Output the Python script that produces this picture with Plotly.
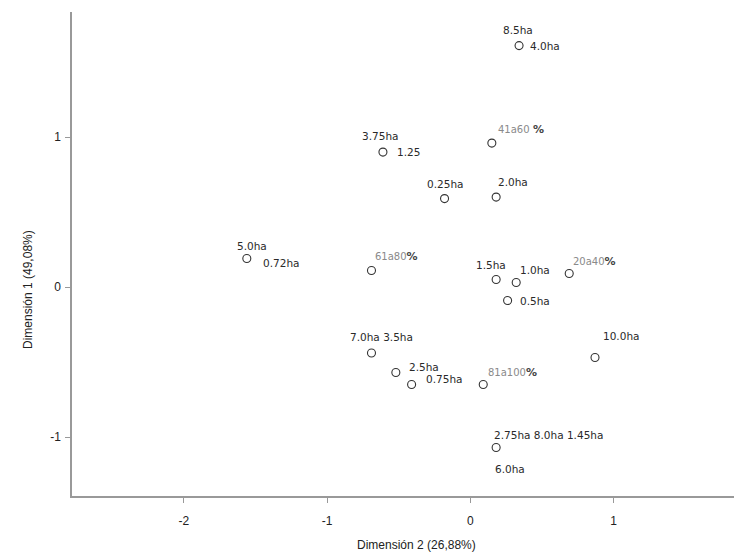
import plotly.graph_objects as go

# Point coordinates (Dimension 2 on x, Dimension 1 on y)
point_ids = ["p4.0", "p41a60", "p3.75", "p0.25", "p2.0", "p5.0", "p61a80", "p1.5",
             "p1.0", "p0.5", "p20a40", "p10.0", "p7.0", "p2.5", "p0.75", "p81a100", "p2.75"]
dim2 = [0.34, 0.15, -0.61, -0.18, 0.18, -1.56, -0.69, 0.18,
        0.32, 0.26, 0.69, 0.87, -0.69, -0.52, -0.41, 0.09, 0.18]
dim1 = [1.61, 0.96, 0.90, 0.59, 0.60, 0.19, 0.11, 0.05,
        0.03, -0.09, 0.09, -0.47, -0.44, -0.57, -0.65, -0.65, -1.07]

# Label texts attached to points (point index, text)
label_point = [0, 0, 1, 2, 2, 3, 4, 5, 5, 6, 7, 8, 9, 10, 11, 12, 13, 14, 15, 16, 16]
label_text = ["8.5ha", "4.0ha", "41a60 %", "3.75ha", "1.25", "0.25ha", "2.0ha", "5.0ha", "0.72ha",
              "61a80%", "1.5ha", "1.0ha", "0.5ha", "20a40%", "10.0ha", "7.0ha 3.5ha", "2.5ha",
              "0.75ha", "81a100%", "2.75ha 8.0ha 1.45ha", "6.0ha"]

x_ticks = [-2, -1, 0, 1]
y_ticks = [-1, 0, 1]
x_title = "Dimensión 2 (26,88%)"
y_title = "Dimensión 1 (49,08%)"

# label placement (pixel offsets, anchor) -- layout only
label_pos = [
    (-18, 16, "left"), (9, 0, "left"), (4, 14, "left"), (-3, 16, "center"), (12, 0, "left"),
    (0, 15, "center"), (0, 15, "left"), (5, 13, "center"), (14, -4, "left"),
    (2, 14, "left"), (-5, 15, "center"), (2, 13, "left"), (10, 0, "left"), (2, 12, "left"),
    (6, 22, "left"), (10, 16, "center"), (11, 6, "left"), (12, 6, "left"), (3, 12, "left"),
    (-4, 13, "left"), (-3, -21, "left"),
]


def fmt(t):
    if "%" in t and "a" in t:
        base = t.replace(" %", "").replace("%", "")
        sep = " " if " %" in t else ""
        return ("<span style='color:#8a8a8a;font-size:10px'>" + base + "</span>" + sep +
                "<b style='font-size:11px;color:#444'>%</b>")
    return t


fig = go.Figure()
fig.add_trace(go.Scatter(
    x=dim2, y=dim1, mode="markers",
    marker=dict(symbol="circle-open", size=8, color="#333333", line=dict(width=1.1)),
    hoverinfo="skip", showlegend=False,
))

annotations = []
for i, t in enumerate(label_text):
    p = label_point[i]
    dx, dy, anc = label_pos[i]
    annotations.append(dict(
        x=dim2[p], y=dim1[p], xref="x", yref="y", text=fmt(t), showarrow=False,
        xanchor=anc, yanchor="middle", xshift=dx, yshift=dy,
        font=dict(family="DejaVu Sans", size=10.5, color="#2a2a2a"),
    ))

annotations.append(dict(x=416, y=545, xref="paper", yref="paper", text=x_title, showarrow=False,
                        xanchor="center", yanchor="middle",
                        font=dict(family="Liberation Sans", size=12, color="#222222")))
annotations.append(dict(x=28, y=290, xref="paper", yref="paper", text=y_title, showarrow=False,
                        xanchor="center", yanchor="middle",
                        textangle=-90, font=dict(family="Liberation Sans", size=12, color="#222222")))

# convert paper pixel positions to paper fractions
W, H = 734, 555
L, R, T, B = 72, 0, 12, 59
pw, ph = W - L - R, H - T - B
for a in annotations[-2:]:
    a["x"] = (a["x"] - L) / pw
    a["y"] = (H - B - a["y"]) / ph

fig.update_layout(
    width=W, height=H,
    margin=dict(l=L, r=R, t=T, b=B, pad=0),
    plot_bgcolor="white", paper_bgcolor="white",
    annotations=annotations,
    xaxis=dict(range=[-2.78, 1.84], tickvals=x_ticks, ticktext=[str(v) for v in x_ticks],
               showgrid=False, zeroline=False, showline=True, linecolor="#999999", linewidth=1.5,
               ticks="outside", ticklen=5, tickcolor="#999999", ticklabelstandoff=8,
               tickfont=dict(family="Liberation Sans", size=12, color="#222222")),
    yaxis=dict(range=[-1.393, 1.834], tickvals=y_ticks, ticktext=[str(v) for v in y_ticks],
               showgrid=False, zeroline=False, showline=True, linecolor="#999999", linewidth=1.5,
               ticks="outside", ticklen=5, tickcolor="#999999", ticklabelstandoff=2,
               tickfont=dict(family="Liberation Sans", size=12, color="#222222")),
)

fig.write_html("out.html")
